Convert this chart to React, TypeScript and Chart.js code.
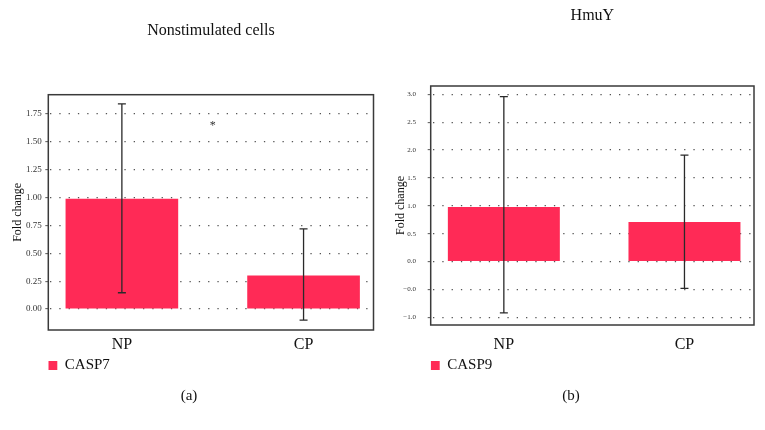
import React, { useEffect, useRef } from "react";
import { Chart, registerables } from "chart.js";

Chart.register(...registerables);
Chart.defaults.font.family = "'Liberation Serif', 'DejaVu Serif', serif";

// ---------- data ----------
const CATEGORIES = ["NP", "CP"];

const A_TITLE = "Nonstimulated cells";
const A_SERIES = "CASP7";
const A_LETTER = "(a)";
const A_VALUES = [0.99, 0.30];
const A_ERR_LOW = [0.146, -0.10];
const A_ERR_HIGH = [1.84, 0.72];
const A_TICKS = [0, 0.25, 0.5, 0.75, 1.0, 1.25, 1.5, 1.75];
const A_TICK_LABELS = ["0.00", "0.25", "0.50", "0.75", "1.00", "1.25", "1.50", "1.75"];
const A_Y_RANGE = [-0.188, 1.923];
const A_MARK = { x: 0.5, y: 1.64, text: "*" };

const B_TITLE = "HmuY";
const B_SERIES = "CASP9";
const B_LETTER = "(b)";
const B_VALUES = [0.98, 0.71];
const B_ERR_LOW = [-0.92, -0.48];
const B_ERR_HIGH = [2.96, 1.91];
const B_TICKS = [-1, -0.5, 0, 0.5, 1, 1.5, 2, 2.5, 3];
const B_TICK_LABELS = ["\u22121.0", "\u22120.0", "0.0", "0.5", "1.0", "1.5", "2.0", "2.5", "3.0"];
const B_Y_RANGE = [-1.138, 3.149];

const Y_TITLE = "Fold change";
const X_RANGE = [-0.405, 1.385];

// ---------- styles ----------
const BAR_COLOR = "#ff2a56";
const TEXT_COLOR = "#111111";

type Layout = {
  left: number;
  width: number;
  padLeft: number;
  padRight: number;
  padBottom: number;
  yWidth: number;
  yTitlePad: number;
  yTickPad: number;
  yTickSize: number;
  titlePadTop: number;
  titlePadBottom: number;
  xPad: number;
  xHeight: number;
};

const LAYOUT_A: Layout = {
  left: 0,
  width: 378,
  padLeft: 4.5,
  padRight: 4.5,
  padBottom: 24.5,
  yWidth: 43.8,
  yTitlePad: 6.6,
  yTickPad: 3.6,
  yTickSize: 9,
  titlePadTop: 21.4,
  titlePadBottom: 54.1,
  xPad: -2.8,
  xHeight: 28,
};

const LAYOUT_B: Layout = {
  left: 378,
  width: 386,
  padLeft: 10,
  padRight: 10,
  padBottom: 24.5,
  yWidth: 42.7,
  yTitlePad: 5.5,
  yTickPad: 11.7,
  yTickSize: 7,
  titlePadTop: 5.9,
  titlePadBottom: 60.9,
  xPad: 2.4,
  xHeight: 33,
};

type PanelProps = {
  title: string;
  series: string;
  letter: string;
  values: number[];
  errLow: number[];
  errHigh: number[];
  ticks: number[];
  tickLabels: string[];
  yRange: number[];
  mark?: { x: number; y: number; text: string };
  layout: Layout;
};

const framePlugin = {
  id: "frame",
  afterDraw(chart: any) {
    const { ctx, chartArea } = chart;
    ctx.save();
    ctx.strokeStyle = "#3a3a3a";
    ctx.lineWidth = 1.5;
    ctx.strokeRect(chartArea.left, chartArea.top, chartArea.right - chartArea.left, chartArea.bottom - chartArea.top);
    ctx.restore();
  },
};

function Panel(props: PanelProps) {
  const ref = useRef<HTMLCanvasElement | null>(null);
  useEffect(() => {
    const L = props.layout;
    const errorPlugin = {
      id: "errorBars",
      afterDatasetsDraw(chart: any) {
        const { ctx, scales } = chart;
        ctx.save();
        ctx.strokeStyle = "#2a2a2a";
        ctx.lineWidth = 1.3;
        props.values.forEach((_, i) => {
          const x = scales.x.getPixelForValue(i);
          const yH = scales.y.getPixelForValue(props.errHigh[i]);
          const yL = scales.y.getPixelForValue(props.errLow[i]);
          ctx.beginPath();
          ctx.moveTo(x, yH);
          ctx.lineTo(x, yL);
          ctx.moveTo(x - 4, yH);
          ctx.lineTo(x + 4, yH);
          ctx.moveTo(x - 4, yL);
          ctx.lineTo(x + 4, yL);
          ctx.stroke();
        });
        ctx.restore();
      },
    };
    const markPlugin = {
      id: "mark",
      afterDatasetsDraw(chart: any) {
        if (!props.mark) return;
        const { ctx, scales } = chart;
        ctx.save();
        ctx.fillStyle = "#333";
        ctx.font = "12px 'Liberation Serif', serif";
        ctx.textAlign = "center";
        ctx.textBaseline = "middle";
        ctx.fillText(props.mark.text, scales.x.getPixelForValue(props.mark.x), scales.y.getPixelForValue(props.mark.y));
        ctx.restore();
      },
    };
    const chart = new Chart(ref.current as HTMLCanvasElement, {
      type: "bar",
      data: {
        datasets: [
          {
            label: props.series,
            data: props.values.map((v, i) => ({ x: i, y: v })),
            backgroundColor: BAR_COLOR,
            borderColor: BAR_COLOR,
            borderWidth: 0,
            categoryPercentage: 0.62,
            barPercentage: 1,
          } as any,
        ],
      },
      options: {
        animation: false,
        responsive: false,
        events: [],
        layout: { padding: { left: L.padLeft, right: L.padRight, top: 0, bottom: L.padBottom } },
        scales: {
          x: {
            type: "linear",
            offset: false,
            min: X_RANGE[0],
            max: X_RANGE[1],
            afterBuildTicks: (s: any) => {
              s.ticks = CATEGORIES.map((_, i) => ({ value: i }));
            },
            ticks: {
              callback: (v: any) => CATEGORIES[Math.round(Number(v))] ?? "",
              font: { size: 16 },
              color: TEXT_COLOR,
              padding: L.xPad,
              autoSkip: false,
              maxRotation: 0,
            },
            grid: { display: false, offset: false },
            border: { display: false },
            afterFit: (s: any) => {
              s.height = L.xHeight;
            },
          },
          y: {
            type: "linear",
            min: props.yRange[0],
            max: props.yRange[1],
            afterBuildTicks: (s: any) => {
              s.ticks = props.ticks.map((v) => ({ value: v }));
            },
            ticks: {
              callback: (v: any) => {
                const k = props.ticks.findIndex((t) => Math.abs(t - Number(v)) < 1e-9);
                return k >= 0 ? props.tickLabels[k] : "";
              },
              font: { size: L.yTickSize },
              color: "#333",
              padding: L.yTickPad,
              autoSkip: false,
            },
            grid: { color: "#555", lineWidth: 1.3, drawTicks: true, tickLength: 3, tickColor: "#555", tickWidth: 1 },
            border: { display: false, dash: [1.3, 8], dashOffset: -2 },
            title: {
              display: true,
              text: Y_TITLE,
              font: { size: 12 },
              color: TEXT_COLOR,
              padding: { top: L.yTitlePad, bottom: 0 },
            },
            afterFit: (s: any) => {
              s.width = L.yWidth;
            },
          },
        },
        plugins: {
          legend: {
            position: "bottom",
            align: "start",
            fullSize: false,
            labels: { boxWidth: 9, boxHeight: 9, padding: 0, font: { size: 15 }, color: TEXT_COLOR },
          },
          title: {
            display: true,
            text: props.title,
            fullSize: false,
            font: { size: 16, weight: "normal" },
            color: TEXT_COLOR,
            padding: { top: L.titlePadTop, bottom: L.titlePadBottom },
          },
          subtitle: {
            display: true,
            text: props.letter,
            position: "bottom",
            font: { size: 15 },
            color: TEXT_COLOR,
            padding: { top: 4.5, bottom: 0 },
          },
          tooltip: { enabled: false },
        },
      } as any,
      plugins: [framePlugin, errorPlugin, markPlugin],
    });
    return () => chart.destroy();
  }, []);
  const L = props.layout;
  return (
    <canvas
      ref={ref}
      width={L.width}
      height={430}
      style={{ position: "absolute", left: L.left, top: 0, width: L.width, height: 430, display: "block" }}
    />
  );
}

export default function App() {
  return (
    <div style={{ position: "absolute", left: 0, top: 0, width: 765, height: 430, background: "#fff", overflow: "hidden" }}>
      <Panel
        title={A_TITLE}
        series={A_SERIES}
        letter={A_LETTER}
        values={A_VALUES}
        errLow={A_ERR_LOW}
        errHigh={A_ERR_HIGH}
        ticks={A_TICKS}
        tickLabels={A_TICK_LABELS}
        yRange={A_Y_RANGE}
        mark={A_MARK}
        layout={LAYOUT_A}
      />
      <Panel
        title={B_TITLE}
        series={B_SERIES}
        letter={B_LETTER}
        values={B_VALUES}
        errLow={B_ERR_LOW}
        errHigh={B_ERR_HIGH}
        ticks={B_TICKS}
        tickLabels={B_TICK_LABELS}
        yRange={B_Y_RANGE}
        layout={LAYOUT_B}
      />
    </div>
  );
}
